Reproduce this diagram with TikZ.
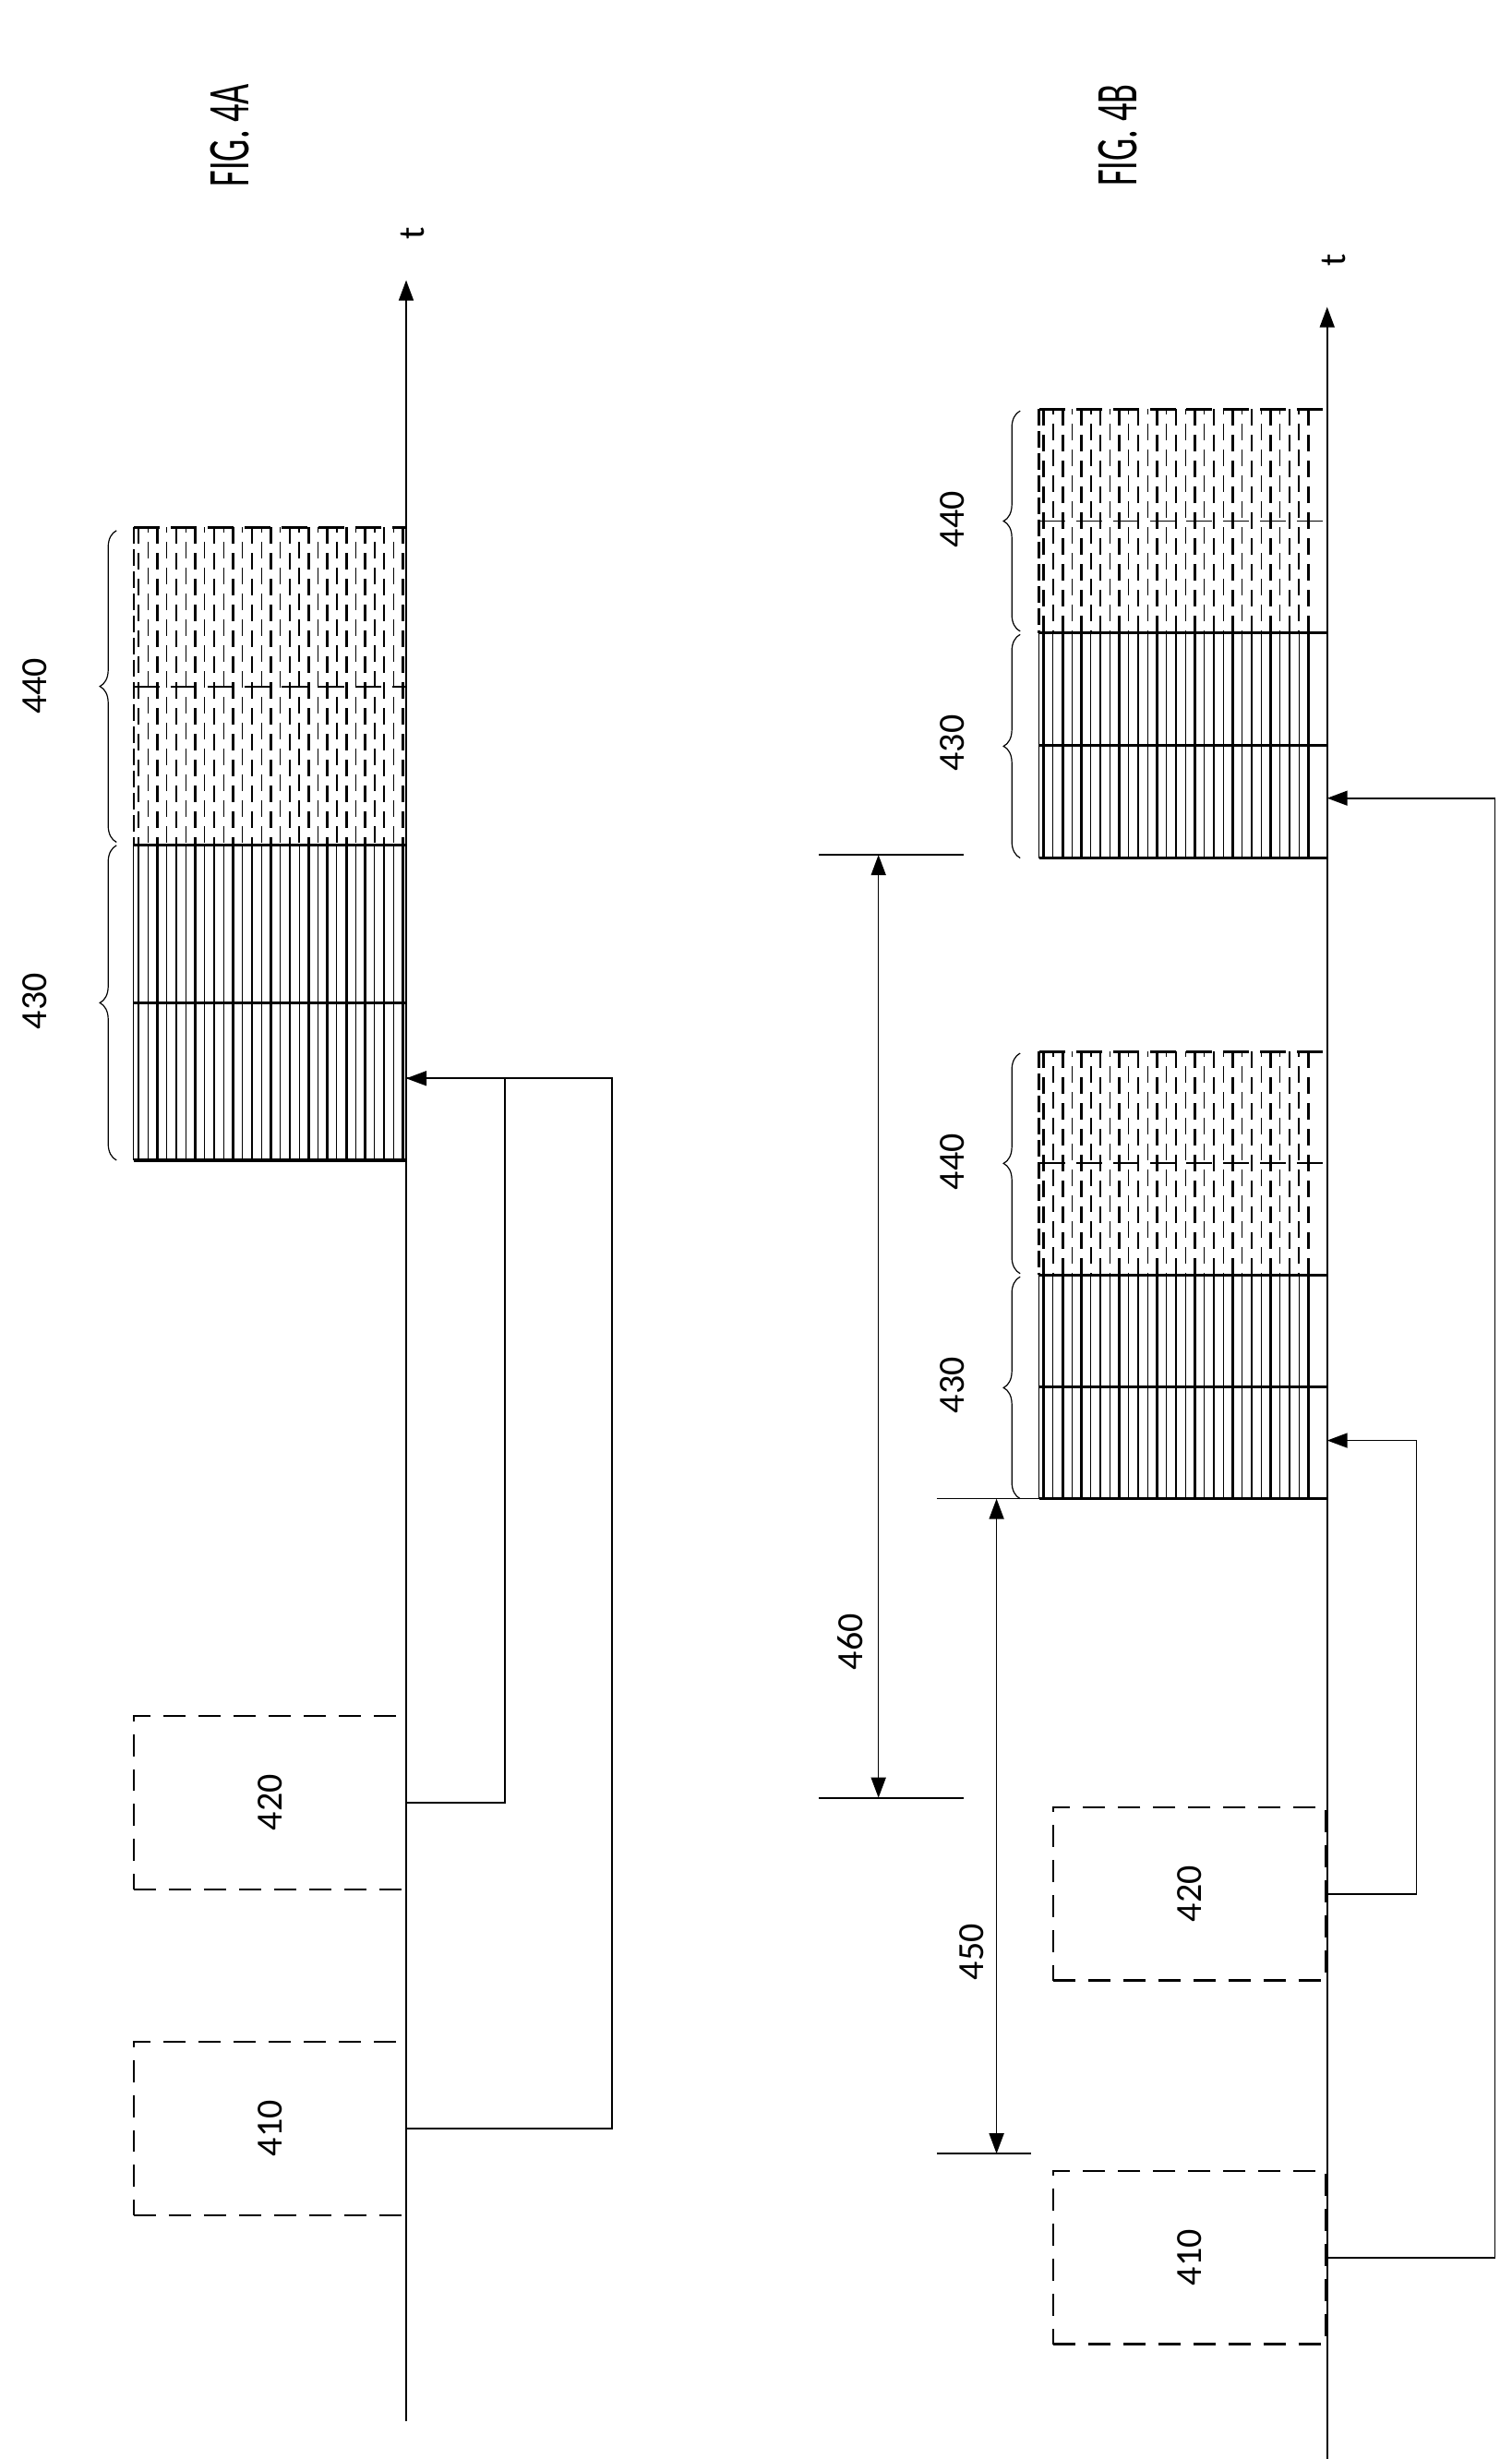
\documentclass[tikz,border=0pt]{standalone}
\usepackage{fontspec}
\setmainfont{Carlito}
\usetikzlibrary{arrows.meta,decorations.pathreplacing,calc}

\tikzset{
    slot/.style={draw,line width=1.1pt,dash pattern=on 12pt off 7pt,minimum width=5.19cm,minimum height=3.3cm,inner sep=0pt,font=\fontsize{20}{24}\selectfont},
    lbl/.style={font=\fontsize{20}{24}\selectfont,inner sep=0pt},
    arr/.style={line width=0.8pt,-{Triangle[length=11pt,width=8pt]}},
    dim/.style={line width=0.8pt,{Triangle[length=11pt,width=8pt]}-{Triangle[length=11pt,width=8pt]}},
    brc/.style={decorate,decoration={brace,amplitude=9pt},line width=0.6pt}
}

% solid hatched block: {xl}{xr}{ytop}{ybot}
\newcommand{\solidblk}[4]{%
    \foreach \i in {0,2,...,28} \draw[line width=1.3pt] ({#1+3+6*\i},#3) -- ({#1+3+6*\i},#4);
    \foreach \i in {1,3,...,27} \draw[line width=0.5pt] ({#1+3+6*\i},#3) -- ({#1+3+6*\i},#4);
    \draw[line width=0.5pt] (#1,#3) -- (#1,#4);
    \draw[line width=1.6pt] (#1,#3) -- (#2,#3);
    \draw[line width=1.6pt] (#1,#4) -- (#2,#4);
    \draw[line width=1.6pt] (#1,{(#3+#4)/2}) -- (#2,{(#3+#4)/2});
}
% dashed hatched block: {xl}{xr}{ytop}{ybot}
\newcommand{\dashblk}[4]{%
    \foreach \i in {0,2,...,28} \draw[line width=1.3pt,dash pattern=on 9pt off 5pt] ({#1+3+6*\i},#3) -- ({#1+3+6*\i},#4);
    \foreach \i in {1,3,...,27} \draw[line width=0.6pt,dash pattern=on 9pt off 5pt,dash phase=6pt] ({#1+3+6*\i},#3) -- ({#1+3+6*\i},#4);
    \draw[line width=1.2pt,dash pattern=on 9pt off 3pt] (#1,#3) -- (#1,#4);
    \draw[line width=1.4pt,dash pattern=on 14pt off 6pt] (#1,#3) -- (#2,#3);
    \draw[line width=0.9pt,dash pattern=on 14pt off 6pt] (#1,{(#3+#4)/2}) -- (#2,{(#3+#4)/2});
}

\begin{document}
\begin{tikzpicture}[x=0.03cm,y=-0.03cm]
    \useasboundingbox (0,0) rectangle (960,1562);

    % FIG. 4A
    \node[lbl] (figA) at (146,86) {\rotatebox{90}{\fontsize{32}{36}\selectfont\scalebox{0.6}[1]{FIG. 4A}}};
    \draw[arr] (258,1538) -- (258,178) coordinate (topA);
    \node[lbl] (tA) at (262,148) {\rotatebox{90}{t}};
    \node[slot] (a410) at (171.5,1352) {\rotatebox{90}{410}};
    \node[slot] (a420) at (171.5,1145) {\rotatebox{90}{420}};
    \coordinate (inA) at (258,685);
    \draw[arr] (a410.east) -- ++(130,0) |- (inA);
    \draw[line width=0.8pt] (a420.east) -- ++(62,0) |- (inA);
    \solidblk{85}{258}{537}{737}
    \dashblk{85}{258}{335}{537}
    \draw[brc] (74,737) -- (74,537);
    \draw[brc] (74,535) -- (74,337);
    \node[lbl] (a430) at (22,636) {\rotatebox{90}{430}};
    \node[lbl] (a440) at (22,436) {\rotatebox{90}{440}};

    % FIG. 4B
    \node[lbl] (figB) at (710,86) {\rotatebox{90}{\fontsize{32}{36}\selectfont\scalebox{0.6}[1]{FIG. 4B}}};
    \draw[arr] (843,1562) -- (843,195) coordinate (topB);
    \node[lbl] (tB) at (847,165) {\rotatebox{90}{t}};
    \node[slot] (b410) at (755.5,1434) {\rotatebox{90}{410}};
    \node[slot] (b420) at (755.5,1203) {\rotatebox{90}{420}};
    \coordinate (inB1) at (843,915);
    \coordinate (inB2) at (843,507);
    \draw[arr] (b420.east) -- ++(57,0) |- (inB1);
    \draw[arr] (b410.east) -- ++(107,0) |- (inB2);
    \solidblk{660}{843}{810}{952}
    \dashblk{660}{843}{668}{810}
    \solidblk{660}{843}{402}{545}
    \dashblk{660}{843}{260}{402}
    \draw[brc] (648,952) -- (648,811);
    \draw[brc] (648,809) -- (648,669);
    \draw[brc] (648,545) -- (648,403);
    \draw[brc] (648,401) -- (648,261);
    \node[lbl] (b430a) at (605,880) {\rotatebox{90}{430}};
    \node[lbl] (b440a) at (605,738) {\rotatebox{90}{440}};
    \node[lbl] (b430b) at (605,472) {\rotatebox{90}{430}};
    \node[lbl] (b440b) at (605,330) {\rotatebox{90}{440}};

    % 460 and 450
    \coordinate (m460a) at (558,543);
    \coordinate (m460b) at (558,1142);
    \draw[line width=0.8pt] (520,543) -- (612,543);
    \draw[line width=0.8pt] (520,1142) -- (612,1142);
    \draw[dim] (m460a) -- (m460b);
    \node[lbl] (d460) at (540,1043) {\rotatebox{90}{460}};
    \coordinate (m450a) at (633,952);
    \coordinate (m450b) at (633,1368);
    \draw[line width=0.8pt] (595,952) -- (662,952);
    \draw[line width=0.8pt] (595,1368) -- (655,1368);
    \draw[dim] (m450a) -- (m450b);
    \node[lbl] (d450) at (617,1240) {\rotatebox{90}{450}};
\end{tikzpicture}
\end{document}
